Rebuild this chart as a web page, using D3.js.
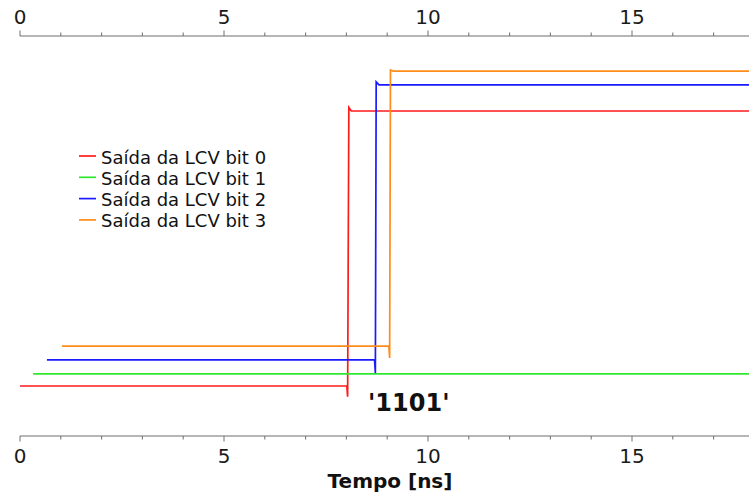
<!DOCTYPE html>
<html>
<head>
<meta charset="utf-8">
<script src="https://cdn.jsdelivr.net/npm/d3@7"></script>
<style>
  html, body { margin: 0; padding: 0; background: #fff; }
  svg { display: block; font-family: "DejaVu Sans", sans-serif; }
</style>
</head>
<body>
<svg id="chart" width="749" height="494"></svg>
<script>
// Waveforms of the four LCV output bits (time in ns, level in normalised units,
// each trace drawn with a small staggered offset so they do not overlap).
const seriesNames = ["Saída da LCV bit 0", "Saída da LCV bit 1", "Saída da LCV bit 2", "Saída da LCV bit 3"];
const seriesColors = ["#ff1a1a", "#2ee82e", "#1a1aff", "#ff8c1a"];

const bit0Time  = [0, 8.01, 8.03, 8.06, 8.12, 18];
const bit0Level = [0, 0, -0.039, 1.013, 1.0, 1.0];

const bit1Time  = [0.32, 18];
const bit1Level = [0.044, 0.044];

const bit2Time  = [0.66, 8.69, 8.71, 8.73, 8.80, 18];
const bit2Level = [0.095, 0.095, 0.047, 1.106, 1.095, 1.095];

const bit3Time  = [1.03, 9.04, 9.06, 9.08, 9.15, 18];
const bit3Level = [0.145, 0.145, 0.102, 1.149, 1.145, 1.145];

const seriesTimes  = [bit0Time, bit1Time, bit2Time, bit3Time];
const seriesLevels = [bit0Level, bit1Level, bit2Level, bit3Level];

const xTicksMajor = [0, 5, 10, 15];
const xTicksMinor = d3.range(0, 19, 1);
const codeLabel = "'1101'";
const xLabel = "Tempo [ns]";

const svg = d3.select("#chart");
const W = 749, H = 494;
const axisTopY = 36, axisBottomY = 436;

const x = d3.scaleLinear().domain([0, 18]).range([20, 20 + 40.8 * 18]);
const y = d3.scaleLinear().domain([0, 1]).range([386, 111]);

const axisColor = "#6e6e6e";

// Top and bottom time axes
function drawAxis(yPos, dir) {
  const g = svg.append("g");
  g.append("line")
    .attr("x1", x(0)).attr("x2", W)
    .attr("y1", yPos).attr("y2", yPos)
    .attr("stroke", axisColor).attr("stroke-width", 1.2);
  g.selectAll("line.minor").data(xTicksMinor.filter(t => t % 5 !== 0)).join("line")
    .attr("class", "minor")
    .attr("x1", d => x(d)).attr("x2", d => x(d))
    .attr("y1", yPos).attr("y2", yPos + dir * 3.5)
    .attr("stroke", axisColor).attr("stroke-width", 1);
  g.selectAll("line.major").data(xTicksMajor).join("line")
    .attr("class", "major")
    .attr("x1", d => x(d)).attr("x2", d => x(d))
    .attr("y1", yPos).attr("y2", yPos + dir * 5.5)
    .attr("stroke", axisColor).attr("stroke-width", 1);
  g.selectAll("text").data(xTicksMajor).join("text")
    .attr("x", d => x(d))
    .attr("y", dir < 0 ? yPos - 12 : yPos + 27)
    .attr("text-anchor", "middle")
    .attr("font-size", 20)
    .attr("fill", "#1a1a1a")
    .text(d => d);
}
drawAxis(axisTopY, -1);
drawAxis(axisBottomY, 1);

// Waveform traces
const line = d3.line().x(d => x(d[0])).y(d => y(d[1]));
seriesNames.forEach((name, i) => {
  const pts = seriesTimes[i].map((t, k) => [t, seriesLevels[i][k]]);
  svg.append("path")
    .datum(pts)
    .attr("d", line)
    .attr("fill", "none")
    .attr("stroke", seriesColors[i])
    .attr("stroke-width", 1.7)
    .attr("stroke-linejoin", "miter");
});

// Legend
const legend = svg.append("g").attr("transform", "translate(79,156)");
seriesNames.forEach((name, i) => {
  const row = legend.append("g").attr("transform", `translate(0,${i * 21.3})`);
  row.append("line").attr("x1", 0).attr("x2", 17).attr("y1", 0).attr("y2", 0)
    .attr("stroke", seriesColors[i]).attr("stroke-width", 1.7);
  row.append("text").attr("x", 22).attr("y", 7.5)
    .attr("font-size", 18).attr("fill", "#111").text(name);
});

// Code annotation
svg.append("text")
  .attr("x", 368).attr("y", 411)
  .attr("font-size", 24).attr("font-weight", "bold").attr("fill", "#111")
  .text(codeLabel);

// Axis title
svg.append("text")
  .attr("x", 390).attr("y", 488)
  .attr("text-anchor", "middle")
  .attr("font-size", 20).attr("font-weight", "bold").attr("fill", "#111")
  .text(xLabel);
</script>
</body>
</html>
